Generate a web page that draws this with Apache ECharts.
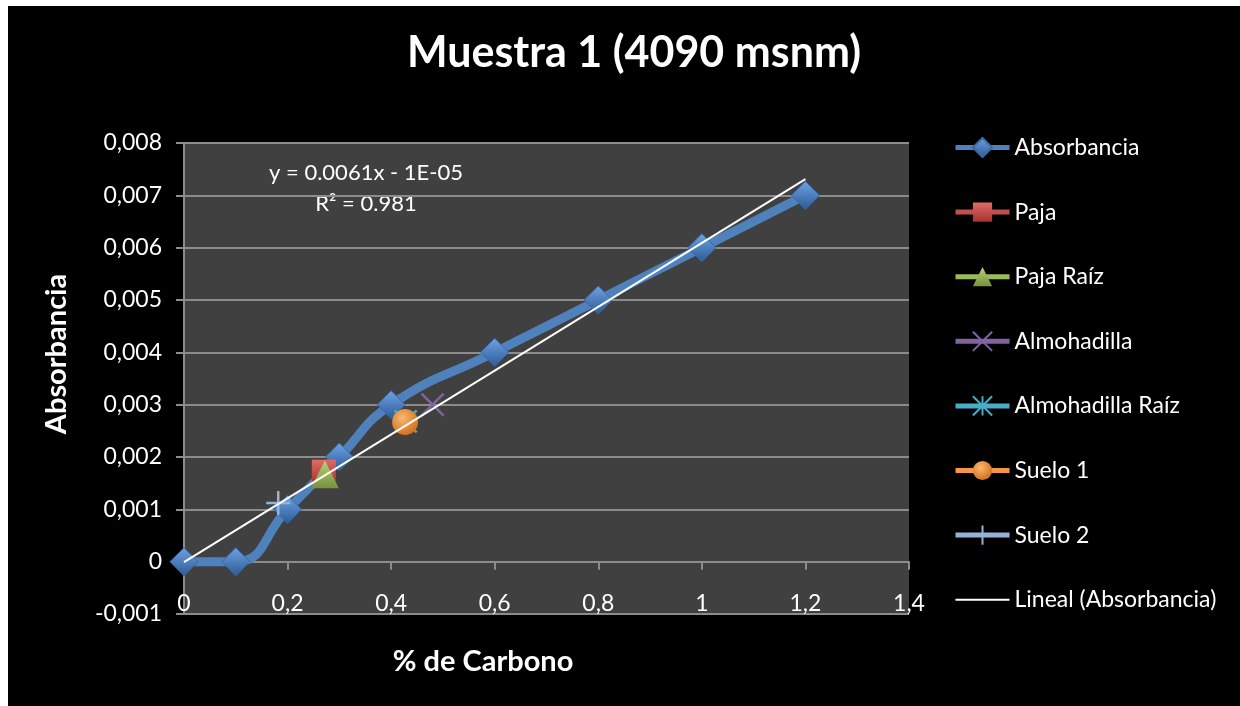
<!DOCTYPE html>
<html>
<head>
<meta charset="utf-8">
<script src="https://cdn.jsdelivr.net/npm/echarts@6/dist/echarts.min.js"></script>
<style>
  html, body { margin: 0; padding: 0; background: #ffffff; }
  #chart { position: absolute; left: 8px; top: 6px; width: 1232px; height: 700px; background: #000000; }
</style>
</head>
<body>
<div id="chart"></div>
<script>
// Calibration curve: % carbon vs absorbance
const carbono = [0, 0.1, 0.2, 0.3, 0.4, 0.6, 0.8, 1.0, 1.2];
const absorbancia = [0, 0, 0.001, 0.002, 0.003, 0.004, 0.005, 0.006, 0.007];

// Individual samples placed on the curve
const muestras = ['Paja', 'Paja Raíz', 'Almohadilla', 'Almohadilla Raíz', 'Suelo 1', 'Suelo 2'];
const muestraCarbono = [0.270, 0.272, 0.480, 0.428, 0.427, 0.182];
const muestraAbs = [0.00172, 0.00167, 0.00300, 0.00268, 0.00267, 0.00112];

// Linear fit reported for the curve
const pendiente = 0.0061;
const intercepto = -0.00001;
const r2 = 0.981;
const xTicks = { min: 0, max: 1.4, step: 0.2 };
const yTicks = { min: -0.001, max: 0.008, step: 0.001 };

const FONT = 'Lato';
const chart = echarts.init(document.getElementById('chart'));

function grad(top, bottom) {
  return new echarts.graphic.LinearGradient(0, 0, 0, 1, [
    { offset: 0, color: top }, { offset: 1, color: bottom }
  ]);
}

const sampleStyles = [
  { symbol: 'rect', size: 24, color: grad('#e06a66', '#a8322f'), line: '#c0504d' },
  { symbol: 'triangle', size: 28, color: grad('#b5d27a', '#76923c'), line: '#9bbb59' },
  { symbol: 'path://M0,0L10,10M10,0L0,10', size: 22, color: 'rgba(0,0,0,0)', border: '#8064a2', line: '#8064a2' },
  { symbol: 'path://M0,0L10,10M10,0L0,10M5,0L5,10', size: 22, color: 'rgba(0,0,0,0)', border: '#4bacc6', line: '#4bacc6' },
  { symbol: 'circle', size: 26, color: new echarts.graphic.RadialGradient(0.4, 0.35, 0.7, [
      { offset: 0, color: '#fbb873' }, { offset: 1, color: '#d06c14' }]), line: '#f79646' },
  { symbol: 'path://M5,0L5,10M0,5L10,5', size: 24, color: 'rgba(0,0,0,0)', border: '#95b3d7', line: '#95b3d7' }
];

const series = [{
  name: 'Absorbancia',
  type: 'line',
  smooth: 0.5,
  data: carbono.map((x, i) => [x, absorbancia[i]]),
  symbol: 'diamond',
  symbolSize: 28,
  lineStyle: { color: '#4f81bd', width: 9 },
  itemStyle: { color: grad('#6fa3e6', '#2c5b94'), borderColor: '#3a6aa6', borderWidth: 1 },
  z: 2
}];

muestras.forEach((name, i) => {
  const s = sampleStyles[i];
  series.push({
    name: name,
    type: 'line',
    data: [[muestraCarbono[i], muestraAbs[i]]],
    symbol: s.symbol,
    symbolSize: s.size,
    lineStyle: { color: s.line, width: 5 },
    itemStyle: s.border
      ? { color: s.color, borderColor: s.border, borderWidth: 2.5 }
      : { color: s.color },
    z: 3 + i
  });
});

const xFit = [carbono[0], carbono[carbono.length - 1]];
series.push({
  name: 'Lineal (Absorbancia)',
  type: 'line',
  data: xFit.map(x => [x, pendiente * x + intercepto]),
  symbol: 'none',
  lineStyle: { color: '#ffffff', width: 2 },
  itemStyle: { color: '#ffffff' },
  z: 20
});

const legendNames = ['Absorbancia'].concat(muestras, ['Lineal (Absorbancia)']);

chart.setOption({
  animation: false,
  backgroundColor: '#000000',
  textStyle: { fontFamily: FONT },
  grid: {
    left: 176, top: 137, width: 725, height: 471,
    show: true, backgroundColor: '#404040', borderWidth: 0
  },
  legend: {
    orient: 'vertical',
    left: 945, top: 130, padding: 0,
    itemWidth: 54, itemHeight: 24, itemGap: 41.6,
    textStyle: { color: '#ffffff', fontSize: 23, fontFamily: FONT },
    data: legendNames.map(n => n === 'Lineal (Absorbancia)'
      ? { name: n, lineStyle: { width: 2, color: '#ffffff' },
          itemStyle: { color: 'rgba(0,0,0,0)', borderColor: 'rgba(0,0,0,0)', borderWidth: 0 } }
      : { name: n, lineStyle: { width: 5 } })
  },
  xAxis: {
    type: 'value',
    min: xTicks.min, max: xTicks.max, interval: xTicks.step,
    axisLine: { onZero: true, lineStyle: { color: '#8c8c8c', width: 2 } },
    axisTick: { show: true, length: 8, lineStyle: { color: '#8c8c8c', width: 2 } },
    axisLabel: {
      color: '#ffffff', fontSize: 23, margin: -22, fontFamily: FONT,
      formatter: v => String(+v.toFixed(1)).replace('.', ',')
    },
    splitLine: { show: false }
  },
  yAxis: {
    type: 'value',
    min: yTicks.min, max: yTicks.max, interval: yTicks.step,
    axisLine: { show: true, onZero: false, lineStyle: { color: '#8c8c8c', width: 2 } },
    axisTick: { show: true, length: 8, lineStyle: { color: '#8c8c8c', width: 2 } },
    axisLabel: {
      color: '#ffffff', fontSize: 23, margin: 22, fontFamily: FONT,
      formatter: v => Math.abs(v) < 1e-9 ? '0' : v.toFixed(3).replace('.', ',')
    },
    splitLine: { show: true, lineStyle: { color: '#8c8c8c', width: 2 } }
  },
  graphic: [
    { type: 'text', x: 626, y: 47,
      style: { text: 'Muestra 1 (4090 msnm)', fill: '#ffffff', font: 'bold 43px ' + FONT,
               textAlign: 'center', textVerticalAlign: 'middle' } },
    { type: 'text', x: 358, y: 167,
      style: { text: 'y = ' + pendiente + 'x - 1E-05', fill: '#ffffff', font: '22px ' + FONT,
               textAlign: 'center', textVerticalAlign: 'middle' } },
    { type: 'text', x: 358, y: 198,
      style: { text: 'R² = ' + r2, fill: '#ffffff', font: '22px ' + FONT,
               textAlign: 'center', textVerticalAlign: 'middle' } },
    { type: 'text', x: 475, y: 656,
      style: { text: '% de Carbono', fill: '#ffffff', font: 'bold 29px ' + FONT,
               textAlign: 'center', textVerticalAlign: 'middle' } },
    { type: 'text', x: 49, y: 348, rotation: Math.PI / 2,
      style: { text: 'Absorbancia', fill: '#ffffff', font: 'bold 29px ' + FONT,
               textAlign: 'center', textVerticalAlign: 'middle' } }
  ],
  series: series
});
</script>
</body>
</html>
